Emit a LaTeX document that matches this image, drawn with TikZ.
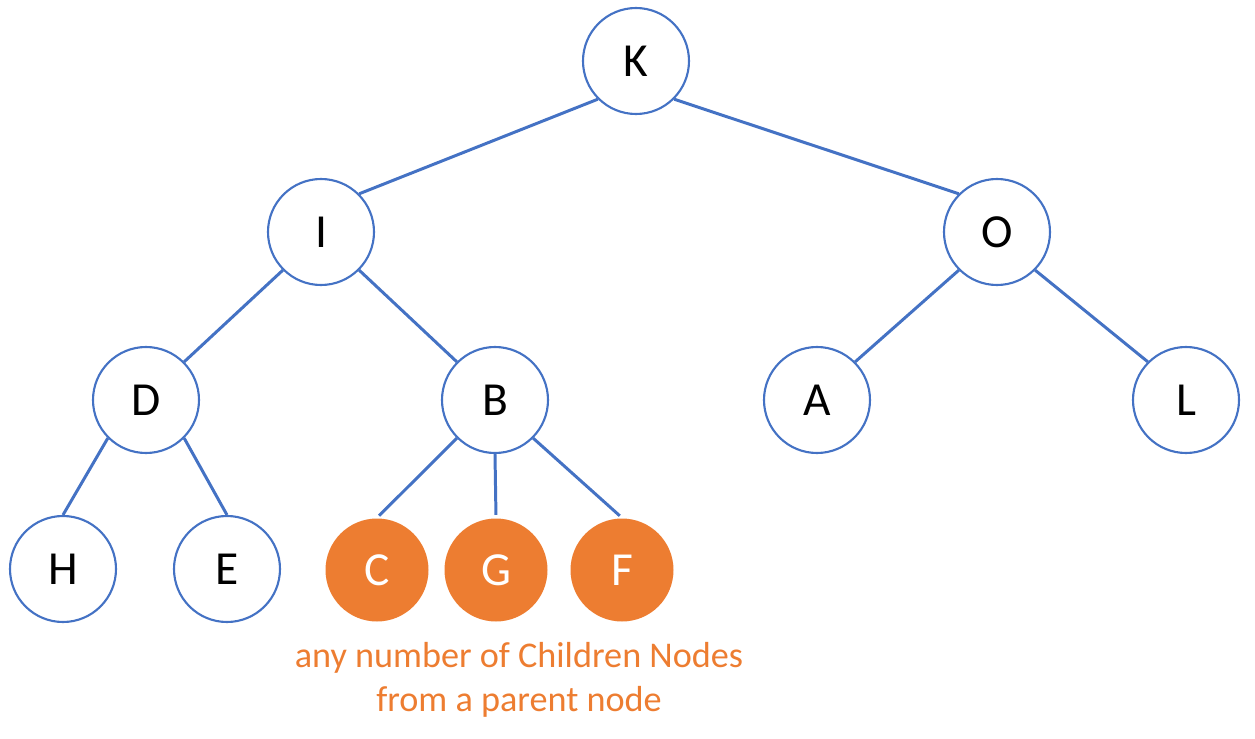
\documentclass[tikz,border=0pt]{standalone}
\usepackage{fontspec}
\setmainfont{Carlito}
\definecolor{treeblue}{HTML}{4472C4}
\definecolor{treeorange}{HTML}{ED7D31}
\begin{document}
\begin{tikzpicture}[
  treenode/.style={circle,draw=treeblue,line width=0.6pt,minimum size=1.06cm,inner sep=0pt,font=\fontsize{13.5}{16}\selectfont},
  childnode/.style={circle,fill=treeorange,minimum size=1.03cm,inner sep=0pt,text=white,font=\fontsize{13.5}{16}\selectfont},
  edge/.style={treeblue,line width=0.85pt}]
\useasboundingbox (0,0) rectangle (12.55,7.38);
% root and inner levels
\node[treenode] (K) at (6.36,6.77) {K};
\node[treenode] (I) at (3.21,5.06) {I};
\node[treenode] (O) at (9.97,5.06) {O};
\node[treenode] (D) at (1.46,3.38) {D};
\node[treenode] (B) at (4.95,3.38) {B};
\node[treenode] (A) at (8.17,3.38) {A};
\node[treenode] (L) at (11.86,3.38) {L};
\node[treenode] (H) at (0.63,1.69) {H};
\node[treenode] (E) at (2.27,1.69) {E};
% children of B
\node[childnode] (C) at (3.77,1.68) {C};
\node[childnode] (G) at (4.96,1.68) {G};
\node[childnode] (F) at (6.22,1.68) {F};
% edges
\draw[edge] (K.south west) -- (I.north east);
\draw[edge] (K.south east) -- (O.north west);
\draw[edge] (I.south west) -- (D.north east);
\draw[edge] (I.south east) -- (B.north west);
\draw[edge] (O.south west) -- (A.north east);
\draw[edge] (O.south east) -- (L.north west);
\draw[edge] (D.south west) -- (H.north);
\draw[edge] (D.south east) -- (E.north);
\draw[edge,shorten >=0.03cm] (B.south west) -- (C.north);
\draw[edge,shorten >=0.03cm] (B.south) -- (G.north);
\draw[edge,shorten >=0.03cm] (B.south east) -- (F.north);
\node[text=treeorange,align=center,font=\fontsize{10.3}{12.5}\selectfont] (note) at (5.19,0.58) {any number of Children Nodes\\from a parent node};
\end{tikzpicture}
\end{document}
